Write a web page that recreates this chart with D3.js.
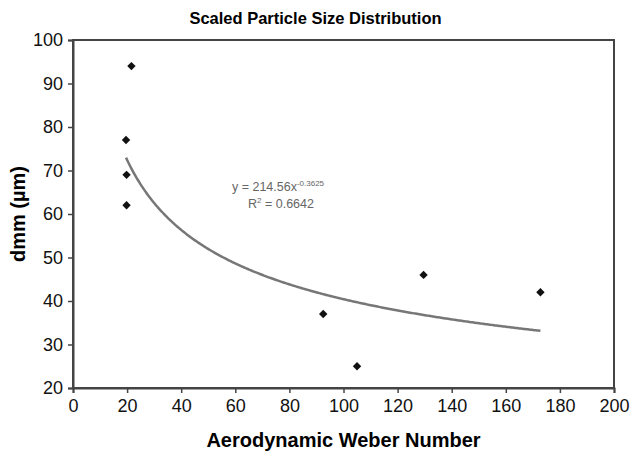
<!DOCTYPE html>
<html>
<head>
<meta charset="utf-8">
<script src="https://cdn.jsdelivr.net/npm/d3@7"></script>
<style>
body { margin: 0; background: #fff; }
text { font-family: "Liberation Sans", Arial, sans-serif; }
</style>
</head>
<body>
<script>
// scatter data
var weber = [21.6, 19.6, 19.8, 19.8, 92.5, 105, 129.6, 172.8];
var dmm = [94, 77, 69, 62, 37, 25, 46, 42];

// power trendline y = a * x^b
var fitA = 214.56, fitB = -0.3625;
var fitLabel = "y = 214.56x", fitExp = "-0.3625", r2Label = "0.6642";

var xTicks = [0, 20, 40, 60, 80, 100, 120, 140, 160, 180, 200];
var yTicks = [20, 30, 40, 50, 60, 70, 80, 90, 100];

var width = 631, height = 453;
var margin = {top: 40, right: 17, bottom: 65, left: 73};

var svg = d3.select("body").append("svg")
  .attr("width", width)
  .attr("height", height);

var x = d3.scaleLinear().domain([0, 200]).range([margin.left, width - margin.right]);
var y = d3.scaleLinear().domain([20, 100]).range([height - margin.bottom, margin.top]);

// frame
svg.append("rect")
  .attr("x", x(0)).attr("y", y(100))
  .attr("width", x(200) - x(0)).attr("height", y(20) - y(100))
  .attr("fill", "none").attr("stroke", "#444").attr("stroke-width", 2);

var xAxis = svg.append("g")
  .attr("transform", "translate(0," + y(20) + ")")
  .call(d3.axisBottom(x).tickValues(xTicks).tickSize(5).tickPadding(6));

var yAxis = svg.append("g")
  .attr("transform", "translate(" + x(0) + ",0)")
  .call(d3.axisLeft(y).tickValues(yTicks).tickSize(5).tickPadding(5));

[xAxis, yAxis].forEach(function(g) {
  g.select(".domain").attr("stroke", "#444").attr("stroke-width", 2);
  g.selectAll(".tick line").attr("stroke", "#444").attr("stroke-width", 1.5);
  g.selectAll(".tick text").attr("fill", "#111")
    .style("font-family", "'Liberation Sans', Arial, sans-serif")
    .style("font-size", "18px");
});

// trendline
var xMin = d3.min(weber), xMax = d3.max(weber);
var line = d3.line()
  .x(function(d) { return x(d); })
  .y(function(d) { return y(fitA * Math.pow(d, fitB)); });

svg.append("path")
  .datum(d3.range(xMin, xMax, 0.5).concat([xMax]))
  .attr("d", line)
  .attr("fill", "none")
  .attr("stroke", "#777")
  .attr("stroke-width", 2.5);

// points
svg.selectAll(".pt")
  .data(weber)
  .enter().append("path")
  .attr("class", "pt")
  .attr("transform", function(d, i) { return "translate(" + x(d) + "," + y(dmm[i]) + ")"; })
  .attr("d", d3.symbol().type(d3.symbolDiamond2).size(45))
  .attr("fill", "#111");

// equation labels
var eq = svg.append("text")
  .attr("x", 278).attr("y", 191)
  .attr("text-anchor", "middle")
  .attr("fill", "#666")
  .style("font-size", "12.5px");
eq.append("tspan").text(fitLabel);
eq.append("tspan").attr("dy", -5).style("font-size", "8px").text(fitExp);

var r2 = svg.append("text")
  .attr("x", 281).attr("y", 208)
  .attr("text-anchor", "middle")
  .attr("fill", "#666")
  .style("font-size", "12.5px");
r2.append("tspan").text("R");
r2.append("tspan").attr("dy", -5).style("font-size", "8px").text("2");
r2.append("tspan").attr("dy", 5).text(" = " + r2Label);

// title (centred on the whole chart) and axis titles (centred on plot)
svg.append("text")
  .attr("x", width / 2).attr("y", 24)
  .attr("text-anchor", "middle")
  .style("font-size", "16.5px").style("font-weight", "bold")
  .text("Scaled Particle Size Distribution");

svg.append("text")
  .attr("x", (x(0) + x(200)) / 2).attr("y", 447)
  .attr("text-anchor", "middle")
  .style("font-size", "20px").style("font-weight", "bold")
  .text("Aerodynamic Weber Number");

svg.append("text")
  .attr("transform", "translate(25," + (y(60)) + ") rotate(-90)")
  .attr("text-anchor", "middle")
  .style("font-size", "20px").style("font-weight", "bold")
  .text("dmm (\u00b5m)");
</script>
</body>
</html>
